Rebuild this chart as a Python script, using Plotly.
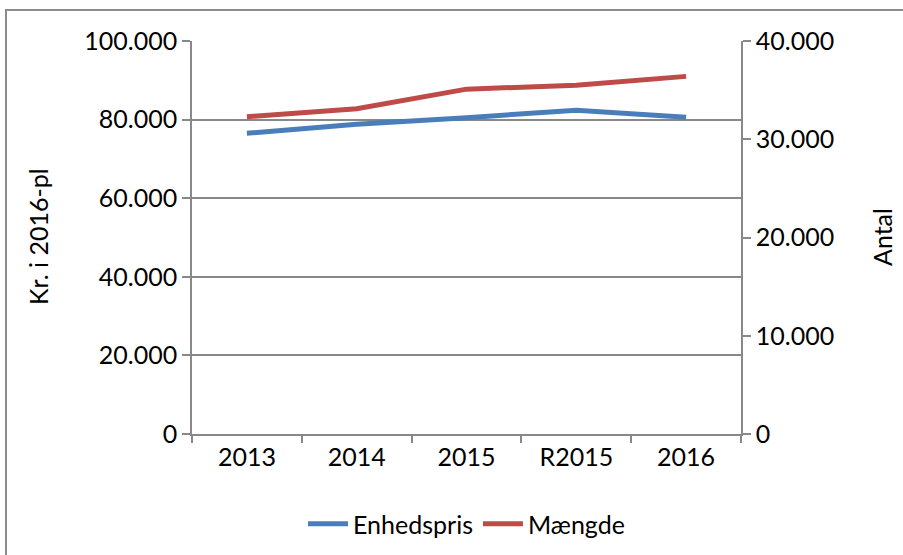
import plotly.graph_objects as go

categories = ["2013", "2014", "2015", "R2015", "2016"]
enhedspris = [76500, 78800, 80500, 82400, 80600]
maengde = [32300, 33100, 35100, 35500, 36400]
left_ticks = [0, 20000, 40000, 60000, 80000, 100000]
right_ticks = [0, 10000, 20000, 30000, 40000]

FONT = "Lato"
FS = 25
GRID = "#888888"

fig = go.Figure()
fig.add_trace(go.Scatter(x=categories, y=enhedspris, name="Enhedspris", mode="lines",
                         line=dict(color="#4a7ebb", width=5), yaxis="y"))
fig.add_trace(go.Scatter(x=categories, y=maengde, name="Mængde", mode="lines",
                         line=dict(color="#be4b48", width=5), yaxis="y2"))

W, H = 903, 555
L, T = 192, 41
pw, ph = 549, 393
R = W - L - pw
B = H - T - ph

def px(x):
    return (x - L) / pw

def py(y):
    return (T + ph - y) / ph

fig.update_layout(
    width=W, height=H,
    margin=dict(l=L, r=R, t=T, b=B, autoexpand=False),
    paper_bgcolor="white", plot_bgcolor="white",
    separators=",.",
    font=dict(family=FONT, size=FS, color="#000000"),
    showlegend=True,
    legend=dict(orientation="h", x=0.5, xanchor="center", y=py(524), yanchor="middle",
                font=dict(size=FS), itemwidth=40, tracegroupgap=0),
    xaxis=dict(type="category", showline=True, linecolor=GRID, linewidth=1.5,
               ticks="outside", tickson="boundaries", ticklen=7, tickcolor=GRID,
               tickwidth=1.5, showgrid=False, range=[-0.5, 4.5], fixedrange=True,
               automargin=False, tickfont=dict(size=FS)),
    yaxis=dict(range=[0, 100000], tickvals=left_ticks, tickformat=",d",
               showline=True, linecolor=GRID, linewidth=1.5, ticks="outside",
               ticklen=8, tickcolor=GRID, tickwidth=1.5, showgrid=True,
               gridcolor=GRID, gridwidth=1.5, zeroline=False, automargin=False,
               tickfont=dict(size=FS)),
    yaxis2=dict(range=[0, 40000], tickvals=right_ticks, tickformat=",d",
                overlaying="y", side="right", showline=True, linecolor=GRID,
                linewidth=1.5, ticks="outside", ticklen=8, tickcolor=GRID,
                tickwidth=1.5, showgrid=False, zeroline=False, automargin=False,
                tickfont=dict(size=FS)),
    annotations=[
        dict(text="Kr. i 2016-pl", xref="paper", yref="paper", x=px(38), y=py(237),
             textangle=-90, showarrow=False, font=dict(size=FS),
             xanchor="center", yanchor="middle"),
        dict(text="Antal", xref="paper", yref="paper", x=px(882), y=py(237),
             textangle=-90, showarrow=False, font=dict(size=FS),
             xanchor="center", yanchor="middle"),
    ],
    shapes=[dict(type="rect", xref="paper", yref="paper",
                 x0=px(6), x1=px(912), y0=py(565), y1=py(10),
                 line=dict(color="#8c8c8c", width=2), layer="below")],
)

fig.write_html("out.html", config={"displayModeBar": False},
               post_script="document.body.style.margin='0';document.body.style.padding='0';")
